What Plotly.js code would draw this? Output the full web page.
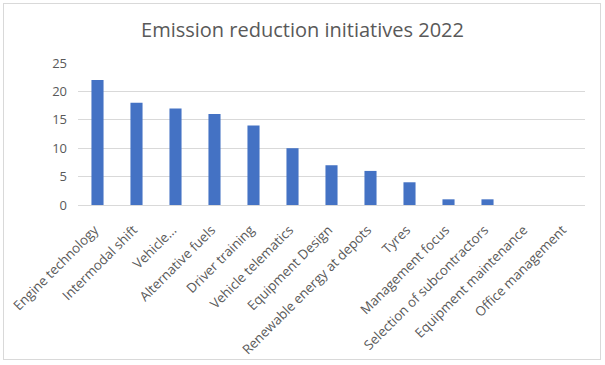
<!DOCTYPE html>
<html>
<head>
<meta charset="utf-8">
<script src="https://cdn.plot.ly/plotly-3.0.1.min.js"></script>
<style>
html,body{margin:0;padding:0;background:#fff;}
#wrap{position:relative;width:605px;height:365px;}
#chart{width:605px;height:365px;}
#frame{position:absolute;left:3px;top:3px;width:598px;height:357px;border:1px solid #d9d9d9;pointer-events:none;box-sizing:border-box;}
</style>
</head>
<body>
<div id="wrap"><div id="chart"></div><div id="frame"></div></div>
<script>
const categories = ["Engine technology","Intermodal shift","Vehicle...","Alternative fuels","Driver training","Vehicle telematics","Equipment Design","Renewable energy at depots","Tyres","Management focus","Selection of subcontractors","Equipment maintenance","Office management"];
const values = [22,18,17,16,14,10,7,6,4,1,1,0,0];
const yTicks = [0,5,10,15,20,25];

const font = "Open Sans, Noto Sans, sans-serif";
Plotly.newPlot('chart', [{
  type: 'bar',
  x: categories,
  y: values,
  marker: {color: '#4472c4'},
  hoverinfo: 'x+y'
}], {
  width: 605, height: 365,
  margin: {l: 78, r: 20, t: 63, b: 160},
  paper_bgcolor: '#fff', plot_bgcolor: '#fff',
  bargap: 0.69,
  title: {text: 'Emission reduction initiatives 2022', x: 0.5, xanchor: 'center', y: 0.918, yanchor: 'middle',
          font: {family: font, size: 20, color: '#595959'}},
  xaxis: {tickangle: -45, tickfont: {family: font, size: 13.3, color: '#595959'},
          ticklabelshift: -3, ticklabelstandoff: 11,
          showline: true, linecolor: '#d9d9d9', linewidth: 1, ticks: '', showgrid: false, automargin: false},
  yaxis: {range: [0, 25], tickvals: yTicks, ticktext: yTicks.map(String), tickfont: {family: font, size: 13, color: '#595959'},
          ticklabelstandoff: 10,
          gridcolor: '#d9d9d9', gridwidth: 1, zeroline: false, showline: false, ticks: '', ticklen: 0, automargin: false},
  showlegend: false
}, {displayModeBar: false, staticPlot: true});
</script>
</body>
</html>
